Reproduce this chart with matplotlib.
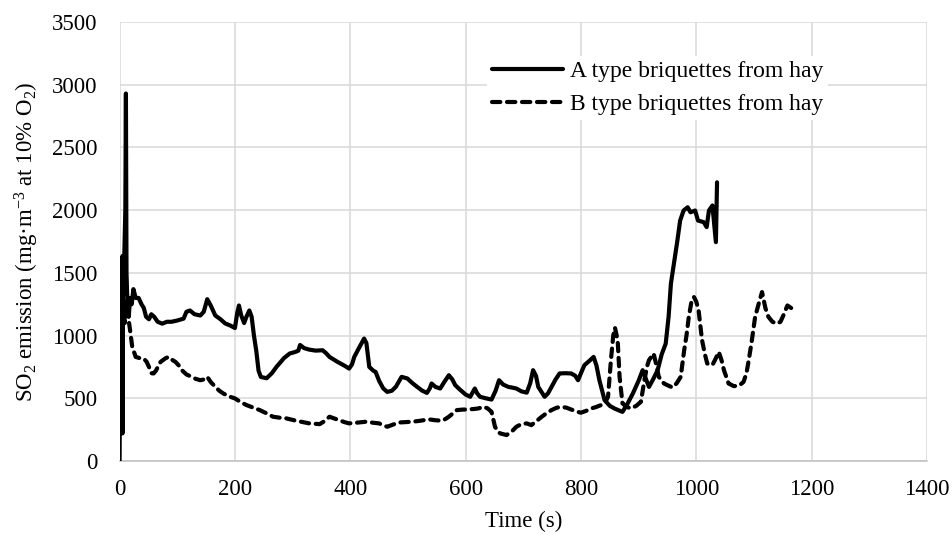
import numpy as np
import matplotlib
matplotlib.use("Agg")
import matplotlib.pyplot as plt

# fonts: Times-like serif for everything, incl. sub/superscripts
plt.rcParams['font.family'] = ['Liberation Serif', 'DejaVu Serif']
plt.rcParams['mathtext.fontset'] = 'custom'
plt.rcParams['mathtext.rm'] = 'Liberation Serif'
plt.rcParams['mathtext.it'] = 'Liberation Serif:italic'

# A type briquettes (solid)
time_a = [0, 1, 2, 3, 4, 5, 6, 8, 10, 11, 12, 14, 16, 18, 21, 24, 28, 33, 38, 42,
          46, 51, 55, 60, 66, 74, 82, 90, 100, 111, 116, 122, 130, 140, 146, 152, 158, 166, 175, 183,
          192, 200, 204, 207, 211, 216, 220, 225, 229, 233, 237, 241, 245, 255, 264, 272, 285, 295, 305, 310,
          313, 320, 329, 340, 352, 358, 364, 371, 378, 390, 398, 403, 407, 415, 424, 428, 433, 440, 444, 450,
          457, 464, 472, 479, 485, 489, 499, 508, 516, 525, 533, 538, 541, 548, 556, 563, 571, 577, 582, 590,
          600, 608, 616, 620, 625, 635, 645, 652, 658, 665, 674, 681, 688, 697, 706, 712, 717, 722, 726, 737,
          743, 749, 756, 763, 773, 783, 790, 795, 800, 806, 815, 822, 827, 832, 841, 850, 858, 865, 872, 880,
          890, 900, 907, 913, 918, 925, 933, 940, 947, 952, 956, 962, 967, 972, 978, 985, 990, 998, 1003, 1013,
          1018, 1022, 1028, 1034, 1036]
so2_a = [0, 800, 1550, 1620, 1400, 220, 1500, 1600, 2000, 2930, 1500, 1200, 1150, 1300, 1250, 1370, 1300, 1300, 1250, 1220,
         1150, 1130, 1170, 1150, 1110, 1095, 1110, 1110, 1120, 1135, 1190, 1200, 1170, 1160, 1190, 1290, 1240, 1160, 1130, 1097,
         1080, 1060, 1180, 1240, 1160, 1100, 1150, 1200, 1150, 1000, 880, 720, 670, 660, 700, 750, 820, 857, 870, 880,
         925, 900, 888, 880, 883, 860, 830, 810, 790, 760, 737, 770, 830, 900, 976, 940, 750, 720, 710, 640,
         580, 551, 560, 591, 640, 671, 658, 620, 591, 560, 543, 580, 618, 590, 578, 630, 684, 650, 605, 570,
         530, 512, 578, 540, 512, 500, 490, 560, 644, 610, 591, 585, 578, 555, 545, 620, 724, 680, 591, 512,
         540, 591, 650, 698, 700, 698, 680, 644, 700, 764, 800, 830, 760, 644, 485, 440, 419, 405, 392, 450,
         538, 640, 724, 650, 591, 650, 724, 850, 936, 1150, 1414, 1600, 1750, 1917, 1997, 2023, 1983, 1997, 1917, 1904,
         1865, 1997, 2037, 1745, 2222]

# B type briquettes (dashed)
time_b = [0, 1, 3, 5, 7, 9, 12, 15, 18, 22, 28, 35, 42, 47, 51, 55, 59, 63, 71, 80,
          85, 90, 97, 103, 108, 116, 125, 132, 140, 146, 152, 158, 166, 173, 180, 190, 200, 210, 220, 232,
          243, 255, 266, 278, 289, 306, 318, 329, 347, 356, 364, 372, 381, 390, 398, 410, 427, 440, 450, 457,
          464, 474, 484, 495, 507, 520, 536, 548, 559, 565, 571, 578, 585, 595, 605, 615, 622, 631, 638, 645,
          651, 656, 660, 671, 680, 688, 697, 706, 714, 722, 732, 740, 749, 758, 766, 775, 783, 792, 800, 809,
          818, 826, 835, 843, 847, 852, 856, 859, 862, 864, 867, 872, 880, 887, 896, 904, 910, 915, 918, 926,
          930, 935, 944, 952, 959, 966, 973, 979, 983, 987, 992, 996, 1000, 1004, 1010, 1015, 1019, 1028, 1034, 1039,
          1044, 1048, 1056, 1065, 1074, 1082, 1087, 1091, 1096, 1102, 1108, 1114, 1117, 1120, 1125, 1132, 1140, 1146, 1151, 1158,
          1166, 1172]
so2_b = [650, 1450, 1300, 1650, 1450, 1100, 1250, 1150, 1050, 909, 830, 820, 817, 790, 750, 700, 698, 720, 790, 820,
         830, 810, 790, 760, 724, 690, 671, 655, 644, 650, 671, 630, 591, 560, 538, 515, 499, 470, 446, 425,
         406, 380, 353, 345, 340, 321, 310, 300, 294, 320, 353, 340, 326, 310, 300, 305, 313, 305, 300, 285,
         273, 290, 307, 310, 313, 320, 332, 325, 321, 335, 353, 380, 406, 410, 411, 415, 419, 432, 420, 392,
         273, 235, 220, 207, 235, 273, 295, 300, 286, 315, 353, 380, 406, 425, 432, 425, 411, 395, 385, 400,
         419, 430, 446, 475, 512, 804, 1000, 1063, 1000, 936, 671, 459, 430, 419, 440, 472, 644, 760, 804, 857,
         780, 671, 618, 600, 586, 620, 671, 883, 1000, 1148, 1280, 1307, 1270, 1201, 963, 850, 777, 765, 820, 870,
         800, 724, 618, 597, 600, 631, 700, 804, 950, 1148, 1250, 1347, 1280, 1217, 1150, 1110, 1095, 1110, 1161, 1240,
         1215, 1195]

x_ticks = [0, 200, 400, 600, 800, 1000, 1200, 1400]
y_ticks = [0, 500, 1000, 1500, 2000, 2500, 3000, 3500]

fs = 16.5

fig = plt.figure(figsize=(9.52, 5.35), dpi=100)
ax = fig.add_axes([0.1256, 0.1383, 0.8481, 0.8206])

ax.plot(time_a, so2_a, color='black', lw=3.0, solid_joinstyle='round',
        solid_capstyle='round', label='A type briquettes from hay', zorder=3)
ax.plot(time_b, so2_b, color='black', lw=3.0, ls=(0, (2.0, 1.6)),
        dash_capstyle='round', dash_joinstyle='round',
        label='B type briquettes from hay', zorder=3)

ax.set_xlim(0, 1400)
ax.set_ylim(0, 3500)
ax.set_xticks(x_ticks)
ax.set_yticks(y_ticks)
ax.tick_params(length=0, labelsize=fs, colors='black')
ax.tick_params(axis='x', pad=13)
ax.tick_params(axis='y', pad=16)
ax.grid(True, color='#d9d9d9', lw=1.1)
ax.set_axisbelow(True)
for s in ['top', 'right', 'left']:
    ax.spines[s].set_visible(False)
ax.spines['bottom'].set_color('#bfbfbf')
ax.spines['bottom'].set_linewidth(1.1)

ax.set_xlabel('Time (s)', fontsize=fs, labelpad=8)
ax.set_ylabel(r'SO$\mathregular{_2}$ emission (mg·m$\mathregular{^{-3}}$ at 10% O$\mathregular{_2}$)',
              fontsize=fs, labelpad=8)

leg = ax.legend(loc='upper left', bbox_to_anchor=(0.441, 0.95), fontsize=17,
                frameon=True, fancybox=False, framealpha=1, edgecolor='none',
                handlelength=3.0, handletextpad=0.3, labelspacing=0.5, borderpad=0.2)
leg.set_zorder(5)

fig.savefig('out.png', dpi=100)
